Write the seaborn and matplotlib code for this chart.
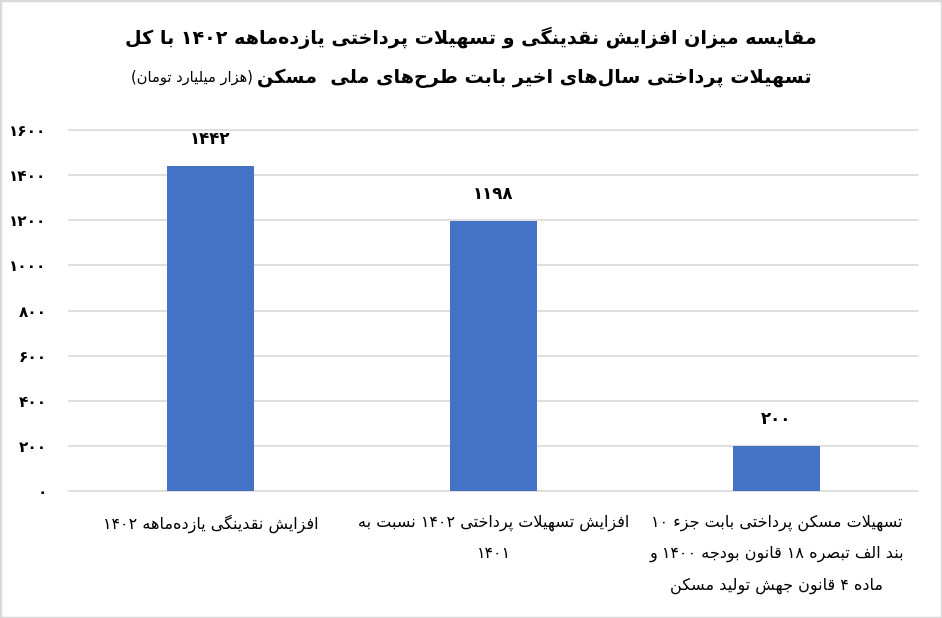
import re
import pandas as pd
import seaborn as sns
import matplotlib.pyplot as plt
from matplotlib.patches import Rectangle

# داده‌ها
categories = [
    "افزایش نقدینگی یازده\u200cماهه ۱۴۰۲",
    "افزایش تسهیلات پرداختی ۱۴۰۲ نسبت به\n۱۴۰۱",
    "تسهیلات مسکن پرداختی بابت جزء ۱۰\nبند الف تبصره ۱۸ قانون بودجه ۱۴۰۰ و\nماده ۴ قانون جهش تولید مسکن",
]
values = [1442, 1198, 200]
yticks = [0, 200, 400, 600, 800, 1000, 1200, 1400, 1600]
title_1 = "مقایسه میزان افزایش نقدینگی و تسهیلات پرداختی یازده\u200cماهه ۱۴۰۲ با کل"
title_2 = "تسهیلات پرداختی سال\u200cهای اخیر بابت طرح\u200cهای ملی  مسکن"
unit = "(هزار میلیارد تومان)"

# شکل‌دهی حروف فارسی (matplotlib خودش این کار را نمی‌کند)
DUAL = {'ئ': 0xFE89, 'ب': 0xFE8F, 'ت': 0xFE95, 'ث': 0xFE99, 'ج': 0xFE9D, 'ح': 0xFEA1,
        'خ': 0xFEA5, 'س': 0xFEB1, 'ش': 0xFEB5, 'ص': 0xFEB9, 'ض': 0xFEBD, 'ط': 0xFEC1,
        'ظ': 0xFEC5, 'ع': 0xFEC9, 'غ': 0xFECD, 'ف': 0xFED1, 'ق': 0xFED5, 'ك': 0xFED9,
        'ل': 0xFEDD, 'م': 0xFEE1, 'ن': 0xFEE5, 'ه': 0xFEE9, 'ي': 0xFEF1, 'پ': 0xFB56,
        'چ': 0xFB7A, 'ک': 0xFB8E, 'گ': 0xFB92, 'ی': 0xFBFC}
RIGHT = {'آ': 0xFE81, 'أ': 0xFE83, 'ؤ': 0xFE85, 'إ': 0xFE87, 'ا': 0xFE8D, 'ة': 0xFE93,
         'د': 0xFEA9, 'ذ': 0xFEAB, 'ر': 0xFEAD, 'ز': 0xFEAF, 'و': 0xFEED, 'ى': 0xFEEF,
         'ژ': 0xFB8A}
LAM_ALEF = {'ا': 0xFEFB, 'آ': 0xFEF5, 'أ': 0xFEF7, 'إ': 0xFEF9}
DIGITS = str.maketrans('0123456789', '۰۱۲۳۴۵۶۷۸۹')
MIRROR = str.maketrans('()', ')(')


def shape(s):
    out = []
    i = 0
    while i < len(s):
        c = s[i]
        prev = s[i - 1] if i > 0 else None
        joins_prev = prev in DUAL
        if c == 'ل' and i + 1 < len(s) and s[i + 1] in LAM_ALEF:
            out.append(chr(LAM_ALEF[s[i + 1]] + (1 if joins_prev else 0)))
            i += 2
            continue
        if c in DUAL or c in RIGHT:
            nxt = s[i + 1] if i + 1 < len(s) else None
            joins_next = c in DUAL and nxt is not None and (nxt in DUAL or nxt in RIGHT)
            base = DUAL.get(c, RIGHT.get(c))
            if joins_prev and joins_next:
                out.append(chr(base + 3))
            elif joins_prev:
                out.append(chr(base + 1))
            elif joins_next:
                out.append(chr(base + 2))
            else:
                out.append(chr(base))
        elif c != '\u200c':
            out.append(c)
        i += 1
    return ''.join(out)


def rtl(text):
    lines = []
    for line in text.split('\n'):
        runs = re.findall(r'[0-9۰-۹]+|[^0-9۰-۹]+', shape(line))
        vis = [r if r[0] in '0123456789۰۱۲۳۴۵۶۷۸۹' else r[::-1].translate(MIRROR)
               for r in reversed(runs)]
        lines.append(''.join(vis))
    return '\n'.join(lines)


def fa_num(v):
    return str(v).translate(DIGITS)


df = pd.DataFrame({'cat': [rtl(c) for c in categories], 'val': values})

sns.set_style('white')
plt.rcParams['font.family'] = ['DejaVu Sans']
plt.rcParams['text.color'] = 'black'
plt.rcParams['xtick.color'] = 'black'
plt.rcParams['ytick.color'] = 'black'

fig = plt.figure(figsize=(9.42, 6.18), dpi=100)
ax = fig.add_axes([0.0732, 0.2055, 0.9013, 0.5841])

sns.barplot(data=df, x='cat', y='val', color='#4472C4', saturation=1, width=0.31,
            linewidth=0, ax=ax)

ax.set_ylim(0, 1600)
ax.set_yticks(yticks)
ax.set_yticklabels([fa_num(t) for t in yticks], fontweight='bold', fontsize=11)
ax.yaxis.grid(True, color='#d9d9d9', lw=1.2)
for gl in ax.get_ygridlines():
    gl.set_clip_on(False)
ax.set_axisbelow(True)
sns.despine(ax=ax, left=True, bottom=True)
ax.tick_params(axis='y', length=0, pad=16)
ax.tick_params(axis='x', length=0, pad=17, labelsize=11.5)
for lbl in ax.get_xticklabels():
    lbl.set_linespacing(2.25)
ax.set_xlabel('')
ax.set_ylabel('')

ax.bar_label(ax.containers[0], labels=[fa_num(v) for v in values],
             padding=13, fontsize=12, fontweight='bold')

# عنوان
fig.text(0.5, 0.9385, rtl(title_1), ha='center', va='center', fontsize=13.8, fontweight='bold')
t2 = fig.text(0.5, 0.874, rtl(title_2), ha='left', va='center', fontsize=13.8, fontweight='bold')
t3 = fig.text(0.5, 0.874, rtl(unit), ha='left', va='center', fontsize=10.5)
fig.canvas.draw()
r = fig.canvas.get_renderer()
w2 = t2.get_window_extent(r).width / fig.bbox.width
w3 = t3.get_window_extent(r).width / fig.bbox.width
gap = 4 / fig.bbox.width
x0 = 0.5 - (w2 + w3 + gap) / 2
t3.set_x(x0)
t2.set_x(x0 + w3 + gap)

fig.patches.append(Rectangle((0, 0), 1, 1, transform=fig.transFigure, fill=False,
                             edgecolor='#d9d9d9', lw=2.5))

fig.savefig('out.png', dpi=100)
